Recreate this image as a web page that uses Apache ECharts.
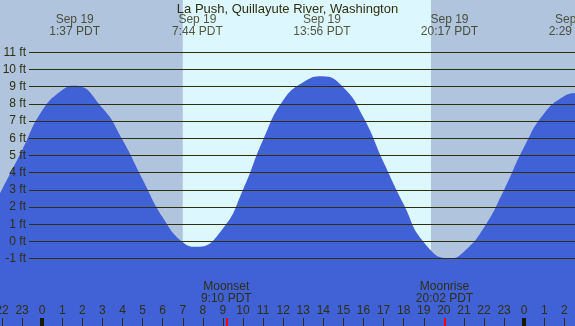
<!DOCTYPE html>
<html>
<head>
<meta charset="utf-8">
<script src="https://cdn.jsdelivr.net/npm/echarts@6/dist/echarts.min.js"></script>
<style>
  html, body { margin: 0; padding: 0; }
  #chart { width: 575px; height: 326px; }
</style>
</head>
<body>
<div id="chart"></div>
<script>
// hours from midnight Sep 19 (PDT) and tide height in feet
const tideHours = [-2.1, -1, 0, 1, 1.62, 3, 4, 5, 6, 7, 7.73, 9, 10, 11, 12, 13, 13.93, 15, 16, 17, 18, 19, 20.28, 21, 22, 23, 24, 25, 26, 26.53];
const tideFeet  = [2.8, 5.3, 7.6, 8.8, 9.05, 7.75, 5.9, 3.6, 1.4, -0.05, -0.32, 0.75, 3.0, 5.9, 8.2, 9.25, 9.6, 8.95, 7.2, 4.6, 2.15, -0.05, -1.0, -0.6, 0.8, 3.0, 5.5, 7.45, 8.45, 8.62];

const extremeHours = [1.62, 7.73, 13.93, 20.28, 26.48];
const extremeDates = ['Sep 19', 'Sep 19', 'Sep 19', 'Sep 19', 'Sep 20'];
const extremeTimes = ['1:37 PDT', '7:44 PDT', '13:56 PDT', '20:17 PDT', '2:29 PDT'];

const sunrise = 7.0;
const sunset = 19.36;

const moonHours = [9.167, 20.033];
const moonNames = ['Moonset', 'Moonrise'];
const moonTimes = ['9:10 PDT', '20:02 PDT'];

const hourTicks = [];
for (let h = -2; h <= 26; h++) hourTicks.push(h);
const midnightTicks = [0, 24];

const xMin = -2.1, xMax = 26.53;
const yMin = -4.92, yMax = 14.03;

const ink = '#2f2f0f';
const font = 'Liberation Sans, Arial, sans-serif';

const chart = echarts.init(document.getElementById('chart'));

const bottomAxis = (extra) => Object.assign({
  type: 'value', gridIndex: 0, position: 'bottom', offset: 0, z: 10,
  min: xMin, max: xMax,
  axisLine: { show: false, onZero: false }, splitLine: { show: false },
  axisTick: { show: false }, axisLabel: { show: false }
}, extra);

chart.setOption({
  backgroundColor: '#b0c4de',
  animation: false,
  title: {
    text: 'La Push, Quillayute River, Washington',
    left: 'center', top: -2,
    textStyle: { fontFamily: font, fontSize: 13, fontWeight: 'normal', color: ink }
  },
  grid: [
    { left: 0, right: 0, top: 0, bottom: 0, outerBoundsMode: 'none', containLabel: false },
    { left: 29, right: 0, top: 52.3, height: 206.4, outerBoundsMode: 'none', containLabel: false }
  ],
  xAxis: [
    bottomAxis({
      axisTick: { show: true, inside: true, length: 8, customValues: hourTicks, lineStyle: { color: ink, width: 1 } },
      axisLabel: {
        show: true, inside: true, margin: 9, customValues: hourTicks, hideOverlap: false,
        fontFamily: font, fontSize: 12, color: ink,
        formatter: (v) => String(((Math.round(v) % 24) + 24) % 24)
      }
    }),
    bottomAxis({
      axisTick: { show: true, inside: true, length: 8, customValues: midnightTicks, lineStyle: { color: '#1a1a00', width: 4 } }
    }),
    bottomAxis({
      axisTick: { show: true, inside: true, length: 8, customValues: moonHours, lineStyle: { color: '#ff0000', width: 2 } },
      axisLabel: {
        show: true, inside: true, margin: 21, customValues: moonHours,
        fontFamily: font, fontSize: 12, color: ink, lineHeight: 12,
        formatter: (v) => {
          const i = moonHours.indexOf(v);
          return moonNames[i] + '\n' + moonTimes[i];
        }
      }
    }),
    { type: 'value', gridIndex: 1, min: xMin, max: xMax, show: false }
  ],
  yAxis: [
    { type: 'value', gridIndex: 0, min: yMin, max: yMax, show: false },
    {
      type: 'value', gridIndex: 1, min: -1, max: 11, interval: 1, z: 10,
      axisLine: { show: false }, axisTick: { show: false },
      splitLine: { show: true, lineStyle: { color: ink, width: 1.2 } },
      axisLabel: { margin: 3, fontFamily: font, fontSize: 12, color: ink, formatter: '{value} ft' }
    }
  ],
  series: [
    {
      type: 'line', xAxisIndex: 0, yAxisIndex: 0, data: [], z: 1, silent: true,
      markArea: {
        silent: true,
        itemStyle: { color: '#ddf7ff' },
        data: [[{ xAxis: sunrise }, { xAxis: sunset }]]
      }
    },
    {
      type: 'line', xAxisIndex: 0, yAxisIndex: 0, z: 3,
      data: tideHours.map((h, i) => [h, tideFeet[i]]),
      smooth: 0.5,
      symbol: 'none',
      lineStyle: { width: 0 },
      areaStyle: { color: '#4161d7', opacity: 1, origin: 'start' }
    },
    {
      type: 'scatter', xAxisIndex: 0, yAxisIndex: 0, z: 12,
      symbolSize: 0,
      data: extremeHours.map((h) => [h, 12.54]),
      label: {
        show: true, position: 'inside',
        fontFamily: font, fontSize: 12, color: ink, lineHeight: 12,
        formatter: (p) => extremeDates[p.dataIndex] + '\n' + extremeTimes[p.dataIndex]
      }
    }
  ]
});
</script>
</body>
</html>
